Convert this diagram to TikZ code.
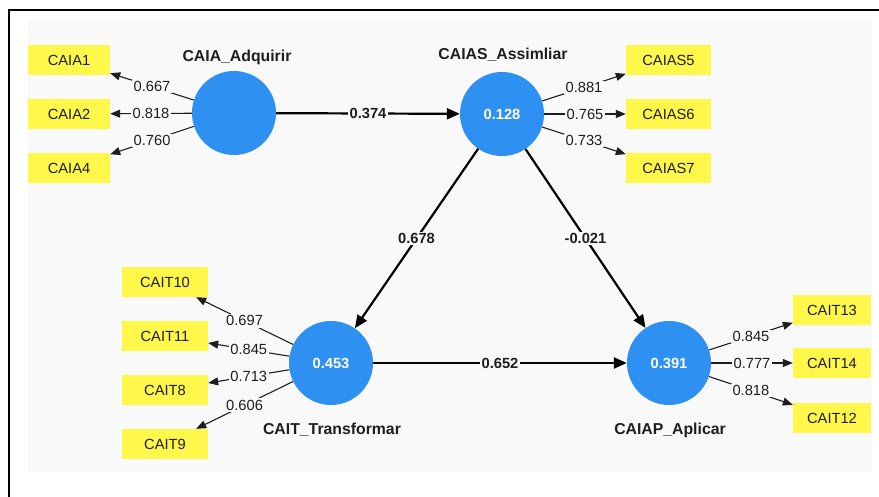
\documentclass[tikz,border=0pt]{standalone}
\usepackage{fontspec}
\setmainfont{Liberation Sans}
\usetikzlibrary{arrows.meta}
\definecolor{bgray}{RGB}{249,249,249}
\definecolor{lvblue}{RGB}{46,144,240}
\definecolor{mvyellow}{RGB}{255,247,74}
\definecolor{txt}{RGB}{30,30,30}
\begin{document}
\begin{tikzpicture}[x=1pt,y=-1pt,
  lv/.style={circle,fill=lvblue,draw=none,minimum size=84pt,inner sep=0pt,text=white,font=\fontsize{14.7}{16}\selectfont\bfseries},
  mv/.style={rectangle,fill=mvyellow,draw=none,minimum width=84pt,minimum height=30pt,inner sep=0pt,text=txt,font=\fontsize{14.7}{16}\selectfont},
  ttl/.style={anchor=base,text=txt,font=\fontsize{15.8}{17}\selectfont\bfseries},
  load/.style={line width=1.1pt,draw=txt,-{Triangle[length=10pt,width=8pt]}},
  path/.style={line width=2.2pt,draw=black,-{Triangle[length=13pt,width=11pt]}},
  lw/.style={fill=bgray,inner sep=1.5pt,text=txt,font=\fontsize{14.7}{16}\selectfont},
  pw/.style={fill=bgray,inner sep=1.5pt,text=txt,font=\fontsize{14.7}{16}\selectfont\bfseries}]
\useasboundingbox (0,0) rectangle (879,497);
\fill[white] (0,0) rectangle (879,497);
\fill[bgray] (28,20) rectangle (872,472);
\draw[line width=1.3pt,black] (9,497) -- (9,10) -- (879,10);

% latent variables
\node[lv] (caia) at (234,113) {};
\node[lv] (caias) at (502,114) {0.128};
\node[lv] (cait) at (331,363) {0.453};
\node[lv] (caiap) at (669,363) {0.391};

% titles
\node[ttl] (tcaia) at (237,62) {CAIA\_Adquirir};
\node[ttl] (tcaias) at (503,59.5) {CAIAS\_Assimliar};
\node[ttl] (tcait) at (332,434) {CAIT\_Transformar};
\node[ttl] (tcaiap) at (670,434) {CAIAP\_Aplicar};

% indicators
\node[mv,minimum width=82pt] (a1) at (69,60) {CAIA1};
\node[mv,minimum width=82pt] (a2) at (69,114) {CAIA2};
\node[mv,minimum width=82pt] (a4) at (69,168) {CAIA4};
\node[mv,minimum width=85pt] (s5) at (668.5,60) {CAIAS5};
\node[mv,minimum width=85pt] (s6) at (668.5,114) {CAIAS6};
\node[mv,minimum width=85pt] (s7) at (668.5,168) {CAIAS7};
\node[mv,minimum width=86pt] (t10) at (165,282) {CAIT10};
\node[mv,minimum width=86pt] (t11) at (165,336) {CAIT11};
\node[mv,minimum width=86pt] (t8) at (165,390) {CAIT8};
\node[mv,minimum width=86pt] (t9) at (165,444) {CAIT9};
\node[mv,minimum width=78pt] (t13) at (832,310) {CAIT13};
\node[mv,minimum width=78pt] (t14) at (832,363) {CAIT14};
\node[mv,minimum width=78pt] (t12) at (832,418) {CAIT12};

% loadings
\draw[load] (caia) -- node[lw] {0.667} (a1);
\draw[load] (caia) -- node[lw] {0.818} (a2);
\draw[load] (caia) -- node[lw] {0.760} (a4);
\draw[load] (caias) -- node[lw] {0.881} (s5);
\draw[load] (caias) -- node[lw] {0.765} (s6);
\draw[load] (caias) -- node[lw] {0.733} (s7);
\draw[load] (cait) -- node[lw] {0.697} (t10);
\draw[load] (cait) -- node[lw] {0.845} (t11);
\draw[load] (cait) -- node[lw] {0.713} (t8);
\draw[load] (cait) -- node[lw] {0.606} (t9);
\draw[load] (caiap) -- node[lw] {0.845} (t13);
\draw[load] (caiap) -- node[lw] {0.777} (t14);
\draw[load] (caiap) -- node[lw] {0.818} (t12);

% paths
\draw[path] (caia) -- node[pw] {0.374} (caias);
\draw[path] (caias) -- node[pw] {0.678} (cait);
\draw[path] (caias) -- node[pw] {-0.021} (caiap);
\draw[path] (cait) -- node[pw] {0.652} (caiap);
\end{tikzpicture}
\end{document}
